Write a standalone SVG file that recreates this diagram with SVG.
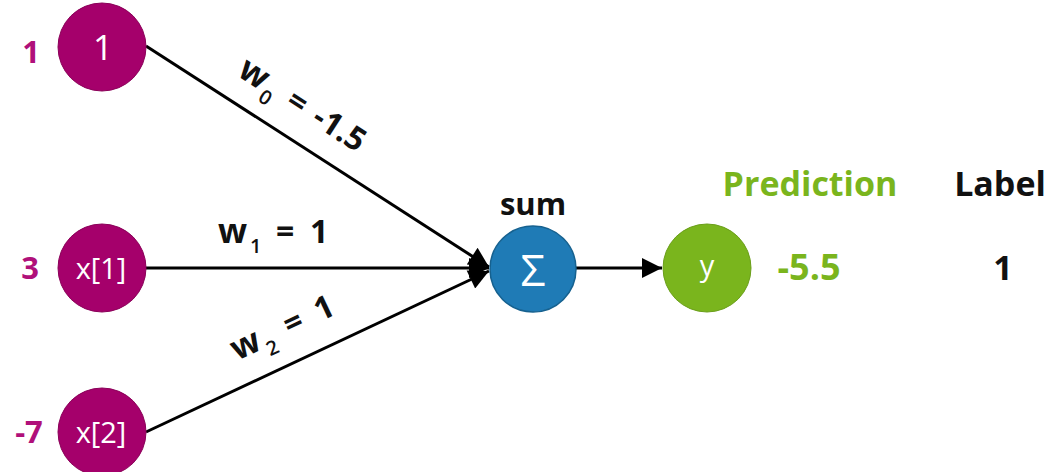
<svg xmlns="http://www.w3.org/2000/svg" width="1059" height="472" viewBox="0 0 1059 472">
<defs>
<style>
.in{fill:#a5006b;stroke:#8a0058;stroke-width:1}
.sum{fill:#1f7bb6;stroke:#16618f;stroke-width:1.5}
.out{fill:#7ab51d;stroke:#6a9e19;stroke-width:1}
.nt{font-family:"Open Sans",sans-serif;fill:#fff;text-anchor:middle}
.val{font-family:"Open Sans","Liberation Sans",sans-serif;font-weight:bold;font-size:31px;fill:#b0107a;text-anchor:middle}
.w{font-family:"Open Sans",sans-serif;font-weight:bold;font-size:32px;fill:#111}
.ww{font-size:34px}
.sub{font-size:20px;font-weight:600}
.hd{font-family:"Open Sans","Liberation Sans",sans-serif;font-weight:bold}
.ln{stroke:#000;stroke-width:3;fill:none}
</style>
<marker id="ah2" viewBox="0 0 10 10" refX="10" refY="5" markerWidth="24" markerHeight="20" orient="auto" markerUnits="userSpaceOnUse">
<path d="M0,0 L10,5 L0,10 z" fill="#000"/>
</marker>
</defs>
<g id="connectors">
<line class="ln" x1="146" y1="46" x2="489" y2="267" marker-end="url(#ah2)"/>
<line class="ln" x1="146" y1="268" x2="489" y2="268" marker-end="url(#ah2)"/>
<line class="ln" x1="146" y1="432" x2="489" y2="271" marker-end="url(#ah2)"/>
<line class="ln" x1="576" y1="268" x2="662" y2="268" stroke-width="2.5" marker-end="url(#ah2)"/>
<text class="w" transform="translate(236,75) rotate(32.8)"><tspan class="ww" x="0" y="0">w</tspan><tspan class="sub" x="31" y="10">0</tspan><tspan x="57" y="0">=</tspan><tspan x="88" y="0">-1.5</tspan></text>
<text class="w" transform="translate(218,243)"><tspan class="ww" x="0" y="0">w</tspan><tspan class="sub" x="32" y="10">1</tspan><tspan x="58" y="0">=</tspan><tspan x="92" y="0">1</tspan></text>
<text class="w" transform="translate(237,361) rotate(-25.2)"><tspan class="ww" x="0" y="0">w</tspan><tspan class="sub" x="32" y="10">2</tspan><tspan x="58" y="0">=</tspan><tspan x="92" y="0">1</tspan></text>
</g>
<g id="node-bias">
<circle class="in" cx="102" cy="47" r="44"/>
<text class="nt" x="103" y="60" style="font-size:35px">1</text>
<text class="val" x="31" y="63">1</text>
</g>
<g id="node-x1">
<circle class="in" cx="102" cy="268" r="44"/>
<text class="nt" x="101" y="279" style="font-size:29px">x[1]</text>
<text class="val" x="30" y="279">3</text>
</g>
<g id="node-x2">
<circle class="in" cx="102" cy="432" r="44"/>
<text class="nt" x="101" y="443" style="font-size:29px">x[2]</text>
<text class="val" x="29" y="443">-7</text>
</g>
<g id="node-sum">
<circle class="sum" cx="533" cy="269" r="43"/>
<text class="nt" x="533" y="286" style="font-size:44px">Σ</text>
<text class="hd" x="533" y="215" text-anchor="middle" fill="#111" style="font-size:31px">sum</text>
</g>
<g id="node-y">
<circle class="out" cx="707" cy="268" r="44"/>
<text class="nt" x="707" y="276" style="font-size:29px">y</text>
</g>
<g id="output-table">
<text class="hd" x="810" y="196" text-anchor="middle" fill="#7ab51d" style="font-size:34px">Prediction</text>
<text class="hd" x="1000" y="196" text-anchor="middle" fill="#111" style="font-size:34px">Label</text>
<text class="hd" x="809" y="280" text-anchor="middle" fill="#7ab51d" style="font-size:36px">-5.5</text>
<text class="hd" x="1003" y="280" text-anchor="middle" fill="#111" style="font-size:34px">1</text>
</g>
</svg>
